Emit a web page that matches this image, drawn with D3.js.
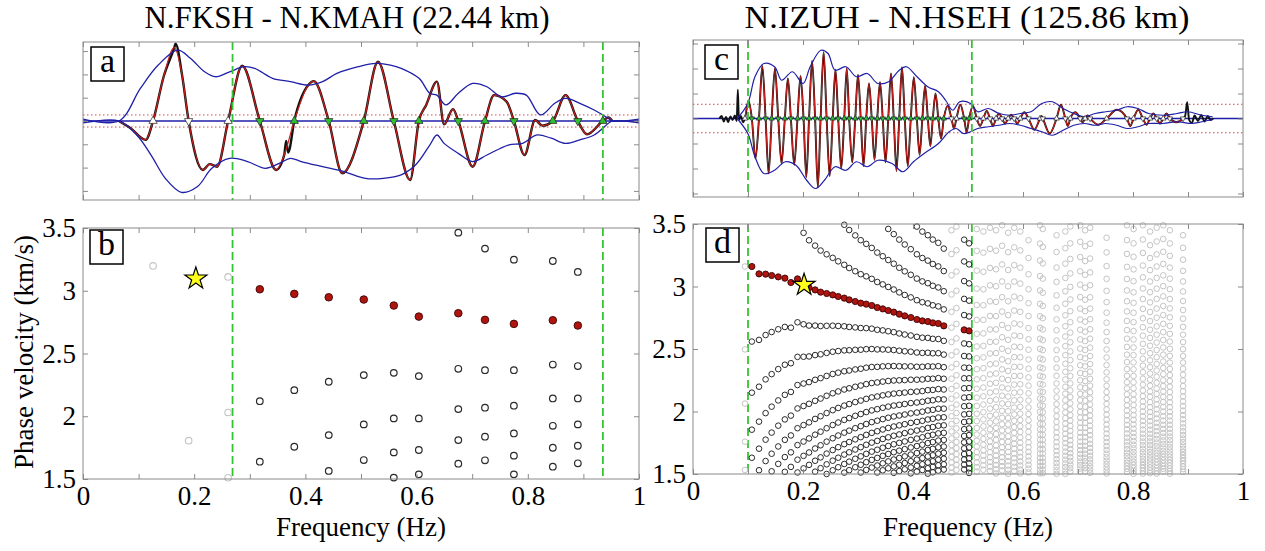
<!DOCTYPE html>
<html>
<head>
<meta charset="utf-8">
<script src="https://cdn.jsdelivr.net/npm/d3@7"></script>
<style>
  body { margin: 0; background: #fff; }
  svg { display: block; }
</style>
</head>
<body>
<svg id="fig" width="1265" height="551"></svg>
<script>
// ---------------- data ----------------
const titleLeft = "N.FKSH - N.KMAH (22.44 km)";
const titleRight = "N.IZUH - N.HSEH (125.86 km)";
const distLeft = 22.44;     // inter-station distance, km
const distRight = 125.86;

// usable frequency band (Hz)
const bandLeft = [0.269, 0.935];
const bandRight = [0.100, 0.507];

// (a) real part of the cross-spectrum, N.FKSH - N.KMAH
const aSigF = [0.0646, 0.085, 0.1128, 0.126, 0.145, 0.1642, 0.178, 0.190, 0.2156, 0.228, 0.2413, 0.261, 0.2863, 0.318, 0.3474, 0.362, 0.380, 0.4052, 0.415, 0.442, 0.4663, 0.505, 0.5305, 0.559, 0.5884, 0.604, 0.6173, 0.6366, 0.6494, 0.6655, 0.675, 0.7008, 0.723, 0.7394, 0.7619, 0.775, 0.794, 0.8133, 0.8261, 0.845, 0.8679, 0.890, 0.9065, 0.935, 0.945, 0.952];
const aSigV = [0, -0.3, -0.81, 0, 1.9, 3.15, 2.0, 0, -2.1, -1.85, -1.96, 0, 2.37, 0, -2.1, -1.45, 0, 1.54, 1.71, 0, -2.24, 0, 2.54, 0, -2.53, 0, 0.69, 1.69, -0.14, 0.51, 0, -1.96, 0, 1.11, 0.83, 0, -1.46, 0.04, -0.2, 0, 1.11, 0, -0.57, 0, 0.15, 0];
// raw (unsmoothed) spikes
const aRawF = [0.1665, 0.3654, 0.369];
const aRawV = [3.32, -0.86, -1.35];
// envelopes
const aUpF = [0.0646, 0.1032, 0.1353, 0.1706, 0.1931, 0.2188, 0.2381, 0.2638, 0.2895, 0.3088, 0.3409, 0.3731, 0.4052, 0.4309, 0.4566, 0.4952, 0.5273, 0.553, 0.5723, 0.6044, 0.6237, 0.6366, 0.6527, 0.6751, 0.7008, 0.7265, 0.7522, 0.7779, 0.7972, 0.8229, 0.8486, 0.8679, 0.8936, 0.9193, 0.945, 0.9515];
const aUpV = [0, 1.4, 2.4, 3.04, 2.69, 2.11, 1.9, 2.11, 2.33, 2.26, 1.83, 1.69, 1.54, 1.69, 2.04, 2.33, 2.47, 2.4, 2.26, 1.83, 1.19, 1.11, 0.69, 1.19, 1.61, 1.47, 1.04, 1.19, 1.11, 0.26, 0.76, 0.97, 0.76, 0.47, 0.11, 0];
const aLoF = [0.0646, 0.0967, 0.1224, 0.1481, 0.1771, 0.206, 0.2317, 0.2638, 0.296, 0.3281, 0.3538, 0.3731, 0.3924, 0.4309, 0.4695, 0.508, 0.5402, 0.5723, 0.598, 0.6237, 0.6366, 0.6494, 0.6751, 0.7008, 0.7265, 0.765, 0.7908, 0.8165, 0.8422, 0.8679, 0.8936, 0.9193, 0.945, 0.9515];
const aLoV = [0, -0.6, -1.46, -2.46, -3.06, -2.81, -2.03, -1.6, -1.74, -2.03, -1.81, -1.6, -1.74, -1.96, -2.17, -2.46, -2.46, -2.31, -1.89, -1.03, -0.6, -0.96, -1.39, -1.74, -1.46, -1.03, -0.96, -0.6, -0.74, -0.96, -0.81, -0.6, -0.1, 0];
const aCross = [0.126, 0.190, 0.261, 0.318, 0.380, 0.442, 0.505, 0.559, 0.604, 0.675, 0.723, 0.775, 0.845, 0.890, 0.935];
const aNoise = 0.26;

// (b) phase velocities at the zero crossings, N.FKSH - N.KMAH
const bFreq = [0.318, 0.380, 0.442, 0.505, 0.559, 0.604, 0.675, 0.723, 0.775, 0.845, 0.890];
const bPicked = [3.012, 2.975, 2.948, 2.93, 2.882, 2.794, 2.821, 2.768, 2.736, 2.765, 2.723];
const bOther = [[2.12, 1.638], [2.208, 1.757], [2.275, 1.85, 1.564], [2.328, 1.935, 1.651], [2.346, 1.983, 1.712, 1.511], [2.32, 1.983, 1.731, 1.537], [3.463, 2.378, 2.057, 1.81, 1.622], [3.336, 2.367, 2.068, 1.837, 1.649], [3.248, 2.367, 2.084, 1.863, 1.686, 1.537], [3.237, 2.412, 2.142, 1.924, 1.749, 1.598], [3.15, 2.40, 2.142, 1.935, 1.765, 1.625]];
const bRejectedFreq = [0.126, 0.190, 0.261];
const bRejected = [[3.198], [1.805], [3.11, 2.03, 1.51]];
const bRefFreq = 0.203, bRefVel = 3.097;

// (c) real part of the cross-spectrum, N.IZUH - N.HSEH
const cPeak = [0.7, -1.6, 2.1, -2.2, 2.0, -1.8, 1.6, -1.85, 1.7, -2.35, 2.3, -2.75, 2.65, -2.3, 1.95, -2.0, 2.0, -1.75, 1.75, -1.9, 1.4, -1.65, 1.45, -1.75, 1.8, -2.1, 2.05, -1.9, 1.65, -1.45, 1.3, -1.1, 1.0, -0.8, 0.5, -0.4, 0.55, -0.55, 0.5, -0.3, 0.3, -0.3, 0.2, -0.2, 0.15, -0.2, 0.25, -0.45, 0.1, -0.6, 0.55, -0.3, 0.25, -0.15, 0.12, -0.25, 0.35, -0.3, 0.35, -0.25, 0.2, -0.2, 0.2, -0.15];
const cHeadF = [0.048, 0.052, 0.056, 0.06, 0.064, 0.068, 0.072, 0.076, 0.0795, 0.0815, 0.0835, 0.087, 0.091];
const cHeadV = [0, 0.1, -0.12, 0.06, -0.15, 0.08, -0.06, 0.12, -0.1, 1.15, -0.05, 0.1, -0.15];
const cTailF = [0.895, 0.8985, 0.902, 0.907, 0.912, 0.918, 0.924, 0.93, 0.936, 0.941, 0.946];
const cTailV = [0.12, 0.65, -0.05, -0.18, 0.12, -0.1, 0.14, -0.12, 0.1, -0.06, 0];
const cUpF = [0.0803, 0.0997, 0.1127, 0.1289, 0.1483, 0.1613, 0.1807, 0.2001, 0.2131, 0.2325, 0.2455, 0.2584, 0.2779, 0.2973, 0.3167, 0.3361, 0.3556, 0.375, 0.388, 0.4074, 0.4268, 0.4462, 0.4592, 0.4722, 0.4851, 0.5045, 0.5175, 0.5369, 0.5563, 0.5758, 0.5952, 0.6146, 0.6341, 0.6535, 0.6729, 0.6924, 0.7118, 0.7312, 0.7506, 0.7701, 0.7895, 0.8089, 0.8284, 0.8543, 0.8802, 0.8996, 0.9255, 0.9449];
const cUpV = [0, 0.6, 1.67, 2.2, 2.07, 1.53, 1.87, 1.4, 2.07, 2.73, 2.6, 1.93, 2.07, 1.67, 1.8, 1.4, 1.47, 1.93, 2.07, 1.67, 1.27, 1.07, 0.73, 0.33, 0.67, 0.6, 0.27, 0.4, 0.2, 0.13, 0.2, 0.27, 0.6, 0.67, 0.4, 0.2, 0.07, 0.2, 0.27, 0.33, 0.47, 0.4, 0.2, 0.13, 0.2, 0.27, 0.13, 0.07];
const cLoF = [0.0803, 0.0997, 0.1127, 0.1289, 0.1483, 0.1678, 0.1872, 0.2066, 0.2228, 0.239, 0.2584, 0.2779, 0.2973, 0.3167, 0.3361, 0.362, 0.3815, 0.4009, 0.4203, 0.4462, 0.4657, 0.4786, 0.4916, 0.5045, 0.5175, 0.5369, 0.5563, 0.5758, 0.5952, 0.6146, 0.6341, 0.6535, 0.6729, 0.6924, 0.7118, 0.7312, 0.7506, 0.7701, 0.7895, 0.8089, 0.8284, 0.8543, 0.8802, 0.906, 0.9255, 0.9449];
const cLoV = [0, -0.6, -1.53, -2.2, -2.07, -1.73, -1.87, -2.47, -2.8, -2.47, -1.93, -2.07, -1.73, -1.93, -1.67, -1.8, -2.13, -1.73, -1.4, -1.0, -0.53, -0.4, -0.6, -0.53, -0.4, -0.33, -0.27, -0.2, -0.27, -0.4, -0.53, -0.67, -0.47, -0.27, -0.2, -0.27, -0.2, -0.27, -0.4, -0.33, -0.2, -0.2, -0.13, -0.2, -0.13, -0.04];
const cNoise = 0.57;

// (d) zero-crossing frequencies and picked phase velocities, N.IZUH - N.HSEH
const dFreq = [0.107, 0.120, 0.132, 0.143, 0.155, 0.167, 0.178, 0.190, 0.201, 0.211, 0.222, 0.232, 0.243, 0.254, 0.264, 0.275, 0.284, 0.295, 0.305, 0.315, 0.325, 0.335, 0.345, 0.355, 0.365, 0.375, 0.385, 0.396, 0.407, 0.417, 0.427, 0.436, 0.446, 0.456, 0.493, 0.502];
const dPicked = [3.16, 3.101, 3.099, 3.088, 3.077, 3.067, 3.032, 3.061, 3.02, 2.99, 2.973, 2.955, 2.944, 2.933, 2.92, 2.907, 2.893, 2.88, 2.867, 2.859, 2.848, 2.832, 2.821, 2.808, 2.795, 2.779, 2.765, 2.752, 2.736, 2.725, 2.72, 2.709, 2.704, 2.685, 2.653, 2.645];
// zero crossings outside the accepted set, with one observed velocity each
const dRejectedFreq = [0.0945, 0.470, 0.479, 0.516, 0.528, 0.540, 0.551, 0.562, 0.573, 0.584, 0.595, 0.610, 0.631, 0.636, 0.661, 0.677, 0.686, 0.704, 0.713, 0.722, 0.752, 0.789, 0.801, 0.818, 0.831, 0.843, 0.855, 0.867, 0.891];
const dRejectedVel = [3.16, 3.45, 3.48, 3.46, 3.44, 3.47, 3.45, 3.49, 3.43, 3.47, 3.44, 3.37, 3.49, 3.46, 3.41, 3.44, 3.48, 3.49, 3.45, 3.47, 3.39, 3.49, 3.46, 3.49, 3.44, 3.47, 3.49, 3.45, 3.41];
const dRefFreq = 0.202, dRefVel = 3.013;

const velTicks = [1.5, 2, 2.5, 3, 3.5];

// ---------------- drawing ----------------
const SERIF = "'Liberation Serif', 'DejaVu Serif', 'Noto Serif', Tinos, serif";
const COL = {
  frame: '#8a8a8a', blue: '#1f1fa8', red: '#c8201c', black: '#111',
  green: '#2fbf2f', dash: '#36c236', grey: '#c4c4c4', circ: '#2a2a2a',
  fill: '#b0140f', star: '#ffff1a'
};
const svg = d3.select('#fig');

const boxes = {
  a: { x0: 83, x1: 639, y0: 42, y1: 200 },
  b: { x0: 83, x1: 639, y0: 228, y1: 479 },
  c: { x0: 693, x1: 1243, y0: 40, y1: 197 },
  d: { x0: 693, x1: 1243, y0: 224, y1: 474 }
};

function label(sel, size) {
  return sel.style('font-family', SERIF).style('font-size', size + 'px').style('fill', '#000');
}

function panel(bx, yDomain) {
  const x = d3.scaleLinear().domain([0, 1]).range([bx.x0, bx.x1]);
  const y = d3.scaleLinear().domain(yDomain).range([bx.y1, bx.y0]);
  const g = svg.append('g');
  g.append('rect').attr('x', bx.x0).attr('y', bx.y0)
    .attr('width', bx.x1 - bx.x0).attr('height', bx.y1 - bx.y0).attr('fill', '#fff');
  return { x, y, g, bx };
}

function axes(P, yTicks, withLabels) {
  const { x, y, g, bx } = P;
  const xt = d3.range(0, 11).map(i => i / 10);
  const fmt = d3.format('~g');
  const none = () => '';
  const ax = g.append('g');
  ax.append('g').attr('transform', `translate(0,${bx.y1})`)
    .call(d3.axisBottom(x).tickValues(xt).tickSize(-5).tickPadding(7)
      .tickFormat(withLabels ? (d => (Math.round(d * 10) % 2 === 0 ? fmt(d) : '')) : none));
  ax.append('g').attr('transform', `translate(0,${bx.y0})`)
    .call(d3.axisTop(x).tickValues(xt).tickSize(-5).tickFormat(none));
  ax.append('g').attr('transform', `translate(${bx.x0},0)`)
    .call(d3.axisLeft(y).tickValues(yTicks).tickSize(-5).tickPadding(7).tickFormat(withLabels ? fmt : none));
  ax.append('g').attr('transform', `translate(${bx.x1},0)`)
    .call(d3.axisRight(y).tickValues(yTicks).tickSize(-5).tickFormat(none));
  ax.selectAll('.domain').remove();
  ax.selectAll('.tick line').attr('stroke', COL.frame);
  label(ax.selectAll('.tick text'), 27);
  g.append('rect').attr('x', bx.x0).attr('y', bx.y0)
    .attr('width', bx.x1 - bx.x0).attr('height', bx.y1 - bx.y0)
    .attr('fill', 'none').attr('stroke', COL.frame).attr('stroke-width', 1);
}

function tag(P, letter, x, y) {
  P.g.append('rect').attr('x', x).attr('y', y).attr('width', 33).attr('height', 34)
    .attr('fill', '#fff').attr('stroke', '#000').attr('stroke-width', 1.5);
  label(P.g.append('text').attr('x', x + 16.5).attr('y', y + 25).attr('text-anchor', 'middle'), 34).text(letter);
}

function band(P, freqs) {
  P.g.selectAll(null).data(freqs).enter().append('line')
    .attr('x1', d => P.x(d)).attr('x2', d => P.x(d))
    .attr('y1', P.bx.y0).attr('y2', P.bx.y1)
    .attr('stroke', COL.dash).attr('stroke-width', 1.8).attr('stroke-dasharray', '8,4');
}

const zip = (f, v) => f.map((d, i) => [d, v[i]]);

function trace(P, pts, color, width, curve) {
  const line = d3.line().x(d => P.x(d[0])).y(d => P.y(d[1]))
    .curve(curve || d3.curveMonotoneX);
  P.g.append('path').datum(pts).attr('d', line).attr('fill', 'none')
    .attr('stroke', color).attr('stroke-width', width).attr('stroke-linejoin', 'round');
}

function guides(P, level) {
  [level, -level].forEach(v => {
    P.g.append('line').attr('x1', P.bx.x0).attr('x2', P.bx.x1)
      .attr('y1', P.y(v)).attr('y2', P.y(v))
      .attr('stroke', '#d44').attr('stroke-width', 1).attr('stroke-dasharray', '1.5,2.5');
  });
  P.g.append('line').attr('x1', P.bx.x0).attr('x2', P.bx.x1)
    .attr('y1', P.y(0)).attr('y2', P.y(0)).attr('stroke', COL.blue).attr('stroke-width', 1.6);
}

function crossings(P, freqs, dirs, inBand, size) {
  const sym = d3.symbol().type(d3.symbolTriangle).size(size);
  P.g.selectAll(null).data(freqs).enter().append('path')
    .attr('d', sym)
    .attr('transform', (d, i) => `translate(${P.x(d)},${P.y(0)}) rotate(${dirs[i] > 0 ? 0 : 180})`)
    .attr('fill', d => inBand(d) ? COL.green : '#fff')
    .attr('stroke', '#222').attr('stroke-width', 0.7);
}

function circles(P, pts, stroke, r, sw) {
  P.g.selectAll(null).data(pts).enter().append('circle')
    .attr('cx', d => P.x(d[0])).attr('cy', d => P.y(d[1])).attr('r', r)
    .attr('fill', 'none').attr('stroke', stroke).attr('stroke-width', sw);
}

function filled(P, pts, r) {
  P.g.selectAll(null).data(pts).enter().append('circle')
    .attr('cx', d => P.x(d[0])).attr('cy', d => P.y(d[1])).attr('r', r)
    .attr('fill', COL.fill).attr('stroke', '#3a0505').attr('stroke-width', 0.9);
}

function star(P, f, v) {
  P.g.append('path').attr('d', d3.symbol().type(d3.symbolStar).size(150))
    .attr('transform', `translate(${P.x(f)},${P.y(v)})`)
    .attr('fill', COL.star).attr('stroke', '#000').attr('stroke-width', 1.2);
}

// phase ambiguity: c_n = f*r / (f*r/c + n)
function branches(f, c, dist, keepSelf) {
  const p = f * dist / c, out = [];
  for (let n = -60; n <= 120; n++) {
    if (n === 0 && !keepSelf) continue;
    if (p + n <= 0) continue;
    const v = f * dist / (p + n);
    if (v >= 1.5 - 1e-6 && v <= 3.5 + 1e-6) out.push([f, v]);
  }
  return out;
}

// ---- titles (stretched to the serif title width)
label(svg.append('text').attr('x', 347).attr('y', 28).attr('text-anchor', 'middle')
  .attr('textLength', 405).attr('lengthAdjust', 'spacingAndGlyphs'), 31).text(titleLeft);
label(svg.append('text').attr('x', 967).attr('y', 28).attr('text-anchor', 'middle')
  .attr('textLength', 445).attr('lengthAdjust', 'spacingAndGlyphs'), 31).text(titleRight);

// ---- (a)
{
  const P = panel(boxes.a, [-3.39, 3.39]);
  guides(P, aNoise);
  const sig = zip(aSigF, aSigV);
  const raw = sig.concat(zip(aRawF, aRawV)).sort((p, q) => p[0] - q[0]);
  trace(P, raw, COL.black, 2.4);
  trace(P, sig, COL.red, 1.2);
  trace(P, [[0, 0.08]].concat(zip(aUpF, aUpV), [[1, 0.08]]), COL.blue, 1.3, d3.curveCatmullRom.alpha(0.5));
  trace(P, [[0, -0.08]].concat(zip(aLoF, aLoV), [[1, -0.08]]), COL.blue, 1.3, d3.curveCatmullRom.alpha(0.5));
  band(P, bandLeft);
  crossings(P, aCross, aCross.map((d, i) => (i % 2 === 0 ? 1 : -1)),
    d => d >= bandLeft[0] && d <= bandLeft[1] + 0.005, 30);
  axes(P, d3.range(-3, 4), false);
  tag(P, 'a', 91, 47);
}

// ---- (b)
{
  const P = panel(boxes.b, [1.5, 3.5]);
  band(P, bandLeft);
  circles(P, bRejectedFreq.flatMap((f, i) => bRejected[i].map(v => [f, v])), COL.grey, 3.3, 1.1);
  circles(P, bFreq.flatMap((f, i) => bOther[i].map(v => [f, v])), COL.circ, 3.3, 1.2);
  filled(P, zip(bFreq, bPicked), 3.8);
  star(P, bRefFreq, bRefVel);
  axes(P, velTicks, true);
  tag(P, 'b', 90, 230);
}

// ---- (c)
{
  const P = panel(boxes.c, [-3.14, 3.14]);
  guides(P, cNoise);
  const zc = dFreq.concat(dRejectedFreq).sort((p, q) => p - q);
  const sig = [];
  zc.forEach((f, i) => {
    sig.push([f, 0]);
    if (i < cPeak.length) sig.push([(f + zc[i + 1]) / 2, cPeak[i]]);
  });
  const raw = zip(cHeadF, cHeadV).concat(sig, zip(cTailF, cTailV));
  trace(P, raw, COL.black, 1.9);
  trace(P, sig, COL.red, 1.1);
  trace(P, zip(cUpF, cUpV), COL.blue, 1.2, d3.curveCatmullRom.alpha(0.5));
  trace(P, zip(cLoF, cLoV), COL.blue, 1.2, d3.curveCatmullRom.alpha(0.5));
  band(P, bandRight);
  const accepted = new Set(dFreq);
  crossings(P, zc, zc.map((d, i) => (cPeak[i] === undefined ? -1 : Math.sign(cPeak[i]))),
    d => accepted.has(d), 13);
  axes(P, d3.range(-3, 4), false);
  tag(P, 'c', 705, 45);
}

// ---- (d)
{
  const P = panel(boxes.d, [1.5, 3.5]);
  band(P, bandRight);
  circles(P, dRejectedFreq.flatMap((f, i) => branches(f, dRejectedVel[i], distRight, true)), COL.grey, 2.8, 1);
  circles(P, dFreq.flatMap((f, i) => branches(f, dPicked[i], distRight, false)), COL.circ, 2.8, 1);
  filled(P, zip(dFreq, dPicked), 3.1);
  star(P, dRefFreq, dRefVel);
  axes(P, velTicks, true);
  tag(P, 'd', 706, 228);
}

// ---- shared axis titles
label(svg.append('text').attr('transform', 'translate(33,352) rotate(-90)').attr('text-anchor', 'middle'), 27)
  .text('Phase velocity (km/s)');
label(svg.append('text').attr('x', 361).attr('y', 536).attr('text-anchor', 'middle'), 27).text('Frequency (Hz)');
label(svg.append('text').attr('x', 968).attr('y', 536).attr('text-anchor', 'middle'), 27).text('Frequency (Hz)');
</script>
</body>
</html>
